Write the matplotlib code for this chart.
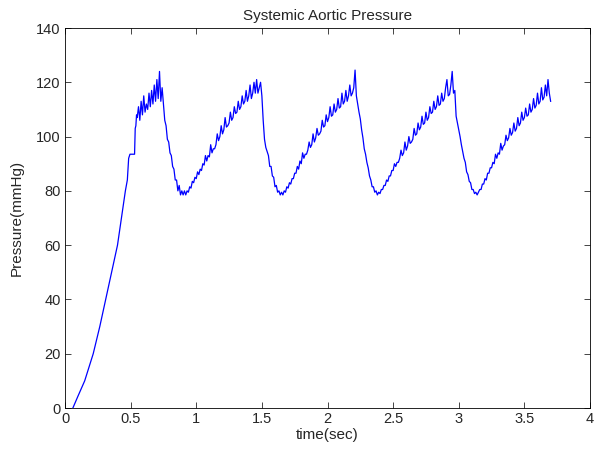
import numpy as np
import matplotlib
matplotlib.use("Agg")
import matplotlib.pyplot as plt

# start-up ramp (smooth part before the oscillation sets in)
ramp_time = [0.06, 0.10, 0.15, 0.215, 0.265, 0.31, 0.355, 0.40, 0.43, 0.46,
             0.475, 0.485, 0.495, 0.53, 0.535, 0.54, 0.545]
ramp_pressure = [0, 4.5, 10, 20, 30, 40, 50, 60, 70, 80,
                 84, 92, 93.5, 93.5, 103, 104, 108]

# noisy pulsatile part, sampled every 0.01 s from 0.55 s to 3.70 s
pulse_start = 0.55
pulse_step = 0.01
pulse_pressure = [
    107, 111, 106, 113, 108, 115, 109, 112, 110, 116,             # 0.55
    111, 117, 112, 119, 113, 121, 114, 124, 113, 118,             # 0.65
    112, 106, 104, 99, 98, 94, 93, 89, 88, 84,                    # 0.75
    84, 80, 82, 78.5, 80, 78.5, 80, 78.5, 80, 79.5,               # 0.85
    81.5, 81, 83.5, 83, 85, 84.5, 87, 86, 88, 87.5,               # 0.95
    90, 89.5, 93, 91, 93, 92.5, 97, 94, 95.5, 95.5,               # 1.05
    97, 101, 98.5, 100, 104, 101, 102.5, 107, 103.5, 104,         # 1.15
    105, 109, 106, 107, 111, 108.5, 109, 113, 110, 111,           # 1.25
    115, 112, 113, 117, 113, 115, 119, 114, 116, 120,             # 1.35
    116, 121, 116, 118, 120, 115, 106, 99, 96, 94.5,              # 1.45
    93, 89, 89, 85.5, 85, 81.5, 82, 79.5, 80, 78.5,               # 1.55
    79.5, 78.5, 80, 79.5, 81.5, 81, 83, 82.5, 84.5, 84.5,         # 1.65
    86.5, 86.5, 89, 88, 91, 90, 94, 92, 93.5, 93.5,               # 1.75
    95, 98, 96, 97, 101, 98, 99.5, 103, 100.5, 101,               # 1.85
    102, 106, 103.5, 104, 108, 105.5, 107, 111, 107.5, 108,       # 1.95
    112, 109, 110, 114, 110.5, 111, 116, 112, 113, 117,           # 2.05
    113, 115, 119, 115, 116, 118, 124.5, 115, 112, 109,           # 2.15
    106.5, 102.5, 99.5, 95.5, 93.5, 90.5, 88.5, 85.5, 84, 81.5,   # 2.25
    81.5, 79.5, 80, 78.5, 79.5, 79, 80.5, 80.5, 82, 82,           # 2.35
    84, 83.5, 85.5, 85.5, 87.5, 87.5, 90, 89, 90.5, 90.5,         # 2.45
    92, 95, 93, 94, 98, 95, 96.5, 100, 97.5, 98,                  # 2.55
    99, 103, 100.5, 101, 105, 102.5, 103.5, 107.5, 104.5, 105,    # 2.65
    109, 106, 107, 111, 108.5, 109, 113, 110, 111, 115,           # 2.75
    111.5, 112, 116, 113, 114, 118, 121, 115, 115.5, 119,         # 2.85
    124, 116, 117, 107.5, 105, 102.5, 100, 97, 94.5, 92,          # 2.95
    90.5, 87, 86, 83.5, 83, 80.5, 80.5, 79, 79.5, 78.5,           # 3.05
    79.5, 80.5, 80.5, 82.5, 82.5, 84.5, 84, 86.5, 86.5, 88.5,     # 3.15
    88.5, 90.5, 90, 93.5, 92, 94, 93.5, 97.5, 95, 96.5,           # 3.25
    97, 100.5, 98.5, 99.5, 103, 100.5, 101.5, 105, 102, 103,      # 3.35
    107, 104, 105, 109, 106, 107, 110.5, 107.5, 108, 112,         # 3.45
    109, 110, 114, 110.5, 111.5, 116, 112, 113, 118, 113.5,       # 3.55
    114.5, 119, 115, 121, 116, 113,                               # 3.65
]
pulse_time = pulse_start + pulse_step * np.arange(len(pulse_pressure))

x_ticks = [0, 0.5, 1, 1.5, 2, 2.5, 3, 3.5, 4]
x_tick_labels = ['0', '0.5', '1', '1.5', '2', '2.5', '3', '3.5', '4']
y_ticks = [0, 20, 40, 60, 80, 100, 120, 140]
y_tick_labels = ['0', '20', '40', '60', '80', '100', '120', '140']

time = np.concatenate([ramp_time, pulse_time])
pressure = np.concatenate([ramp_pressure, pulse_pressure])

plt.rcParams['font.family'] = ['Liberation Sans', 'DejaVu Sans']

fig = plt.figure(figsize=(5.94, 4.5), dpi=100)
ax = fig.add_axes([65 / 594, 42 / 450, 525 / 594, 380 / 450])
ax.plot(time, pressure, color=(0, 0, 1), linewidth=0.9)

ax.set_xlim(0, 4)
ax.set_ylim(0, 140)
ax.set_xticks(x_ticks)
ax.set_xticklabels(x_tick_labels)
ax.set_yticks(y_ticks)
ax.set_yticklabels(y_tick_labels)
ax.tick_params(direction='in', length=4, width=0.6, top=True, right=True,
               labelsize=10.5, pad=3, colors='#262626')
for spine in ax.spines.values():
    spine.set_linewidth(0.6)

ax.set_title('Systemic Aortic Pressure', fontsize=11, pad=6, color='#262626')
ax.set_xlabel('time(sec)', fontsize=11, labelpad=1, color='#262626')
ax.set_ylabel('Pressure(mmHg)', fontsize=11, labelpad=9, color='#262626')

fig.savefig('out.png', dpi=100)
